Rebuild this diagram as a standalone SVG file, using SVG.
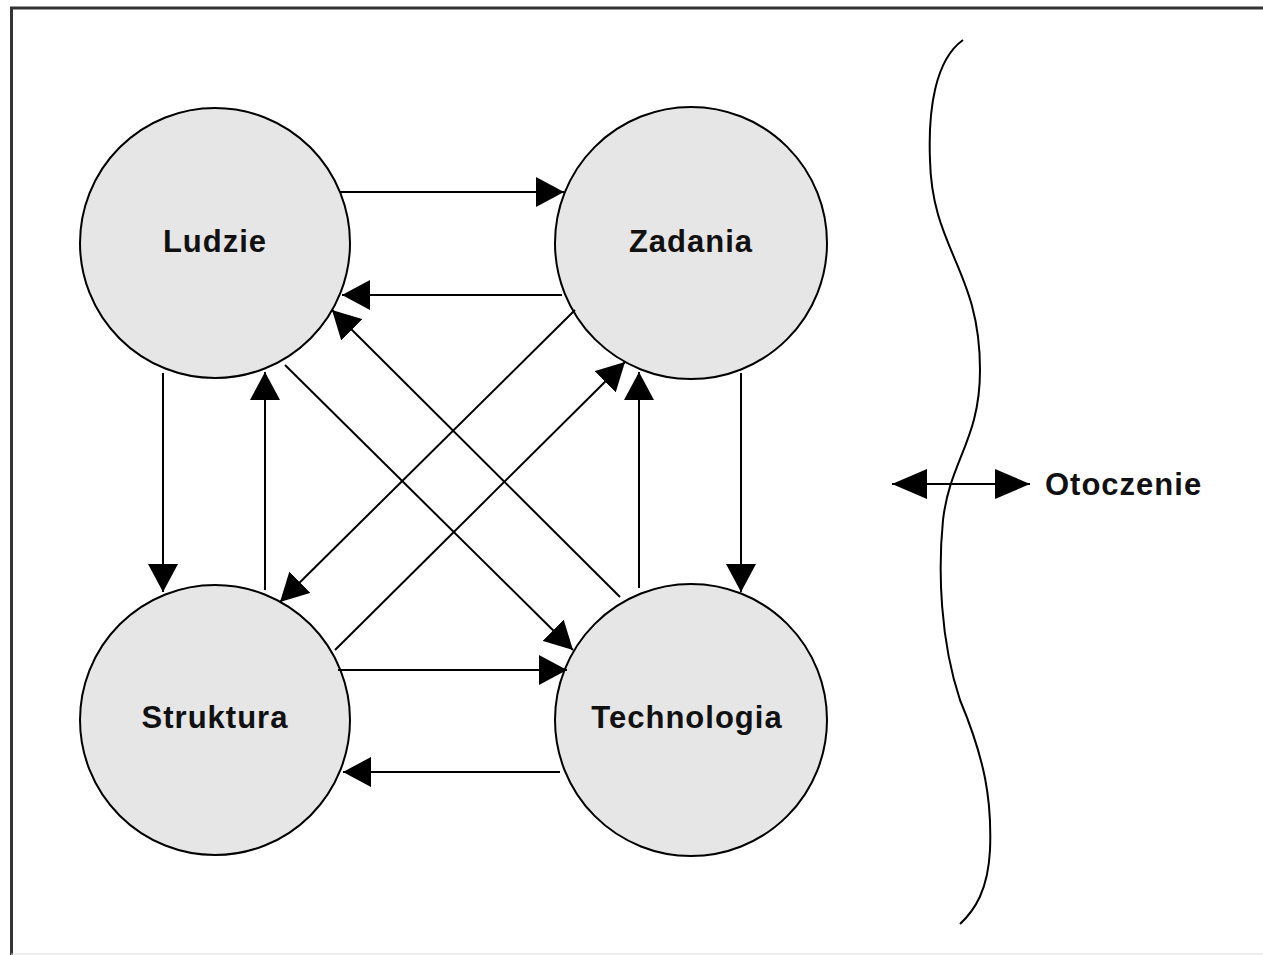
<svg xmlns="http://www.w3.org/2000/svg" width="1263" height="955" viewBox="0 0 1263 955">
<defs>
<style>
.node circle{fill:#e6e6e6;stroke:#000;stroke-width:2}
.node text{font-family:"Liberation Sans",Arial,sans-serif;font-weight:bold;font-size:31px;letter-spacing:1px;fill:#111;text-anchor:middle}
.conn line{stroke:#000;stroke-width:2;marker-end:url(#ah)}
.lbl{font-family:"Liberation Sans",Arial,sans-serif;font-weight:bold;font-size:31px;letter-spacing:1px;fill:#111}
</style>
<marker id="ah" markerUnits="userSpaceOnUse" viewBox="0 0 28 30" refX="28" refY="15" markerWidth="28" markerHeight="30" orient="auto">
<path d="M0,0 L28,15 L0,30 z" fill="#000"/>
</marker>
<marker id="ah2" markerUnits="userSpaceOnUse" viewBox="0 0 35 30" refX="35" refY="15" markerWidth="35" markerHeight="30" orient="auto-start-reverse">
<path d="M0,0 L35,15 L0,30 z" fill="#000"/>
</marker>
</defs>
<rect width="1263" height="955" fill="#fff"/>
<path d="M1263,8 H11.5 V955" fill="none" stroke="#333" stroke-width="3"/>
<line x1="11" y1="954" x2="1263" y2="954" stroke="#ddd" stroke-width="1"/>
<g id="node-ludzie" class="node"><circle cx="215" cy="243" r="135"/><text x="215" y="252">Ludzie</text></g>
<g id="node-zadania" class="node"><circle cx="691" cy="243" r="136"/><text x="691" y="252">Zadania</text></g>
<g id="node-struktura" class="node"><circle cx="215" cy="720" r="135"/><text x="215" y="728">Struktura</text></g>
<g id="node-technologia" class="node"><circle cx="691" cy="720" r="136"/><text x="687" y="728">Technologia</text></g>
<g id="connectors" class="conn">
<line x1="340" y1="192" x2="564" y2="192"/>
<line x1="562" y1="295" x2="342" y2="295"/>
<line x1="163" y1="373" x2="163" y2="592"/>
<line x1="265" y1="590" x2="265" y2="372"/>
<line x1="741" y1="373" x2="741" y2="592"/>
<line x1="639" y1="588" x2="639" y2="372"/>
<line x1="338" y1="670" x2="567" y2="670"/>
<line x1="560" y1="772" x2="343" y2="772"/>
<line x1="285" y1="365" x2="573" y2="650"/>
<line x1="620" y1="597" x2="332" y2="310"/>
<line x1="575" y1="310" x2="280" y2="602"/>
<line x1="335" y1="650" x2="625" y2="362"/>
</g>
<g id="environment">
<path d="M963,40 C935,60 928,110 930,160 C932,250 980,270 980,370 C980,440 950,460 943,520 C938,570 940,640 960,700 C985,760 992,800 990,850 C988,890 975,910 960,924" fill="none" stroke="#000" stroke-width="2"/>
<line x1="892" y1="484" x2="1030" y2="484" stroke="#000" stroke-width="2" marker-start="url(#ah2)" marker-end="url(#ah2)"/>
<text class="lbl" x="1045" y="495">Otoczenie</text>
</g>
</svg>
